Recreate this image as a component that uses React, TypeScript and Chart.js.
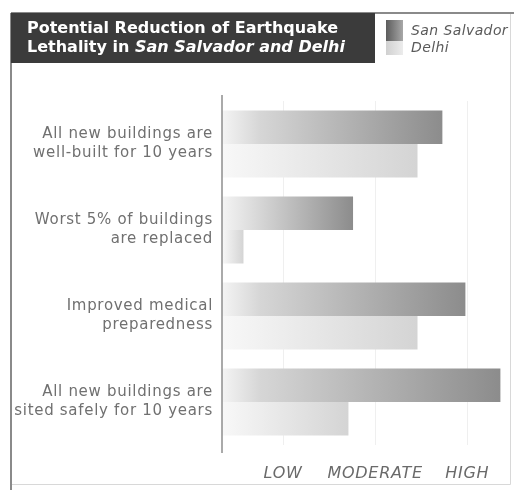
import React, { useEffect, useRef } from "react";
import { Chart, registerables } from "chart.js";

Chart.register(...registerables);

const categories: string[][] = [
  ["All new buildings are", "well-built for 10 years"],
  ["Worst 5% of buildings", "are replaced"],
  ["Improved medical", "preparedness"],
  ["All new buildings are", "sited safely for 10 years"],
];
const sanSalvador = [2.73, 1.76, 2.98, 3.36];
const delhi = [2.46, 0.57, 2.46, 1.71];
const levelTicks = [1, 2, 3];
const levelLabels = ["LOW", "MODERATE", "HIGH"];
const seriesNames = ["San Salvador", "Delhi"];
const titleLine1 = "Potential Reduction of Earthquake";
const titleLine2a = "Lethality in ";
const titleLine2b = "San Salvador and Delhi";

const FONT = "'DejaVu Sans', 'Noto Sans', sans-serif";
const SPACING = "0.7px";

function barGradient(dark: boolean) {
  return (ctx: any) => {
    const chart = ctx.chart;
    const area = chart.chartArea;
    if (!area || ctx.raw == null) return dark ? "#aaa" : "#ddd";
    const x0 = area.left;
    const x1 = chart.scales.x.getPixelForValue(ctx.raw);
    const g = chart.ctx.createLinearGradient(x0, 0, Math.max(x1, x0 + 1), 0);
    if (dark) {
      g.addColorStop(0, "#f4f4f4");
      g.addColorStop(Math.min(0.9, 38 / Math.max(1, x1 - x0)), "#d6d6d6");
      g.addColorStop(1, "#8c8c8c");
    } else {
      g.addColorStop(0, "#f8f8f8");
      g.addColorStop(1, "#d4d4d4");
    }
    return g;
  };
}

// wider tracking for axis text (the canvas state resets when the canvas is sized)
const trackingPlugin = {
  id: "tracking",
  beforeLayout(chart: any) {
    chart.ctx.letterSpacing = SPACING;
  },
  beforeDraw(chart: any) {
    chart.ctx.letterSpacing = SPACING;
  },
};

const framePlugin = {
  id: "frame",
  beforeDraw(chart: any) {
    const c = chart.ctx;
    c.save();
    c.fillStyle = "#ffffff";
    c.fillRect(0, 0, chart.width, chart.height);
    // outer frame
    c.strokeStyle = "#d8d8d8";
    c.lineWidth = 1;
    c.beginPath();
    c.moveTo(11, 484.5);
    c.lineTo(510.5, 484.5);
    c.moveTo(510.5, 13);
    c.lineTo(510.5, 484.5);
    c.stroke();
    c.strokeStyle = "#8a8a8a";
    c.lineWidth = 2;
    c.beginPath();
    c.moveTo(11, 13);
    c.lineTo(11, 490);
    c.moveTo(11, 13);
    c.lineTo(514, 13);
    c.stroke();
    c.restore();
  },
  afterDraw(chart: any) {
    const c = chart.ctx;
    const area = chart.chartArea;
    c.save();
    c.letterSpacing = "0px";
    // title box
    c.fillStyle = "#3b3b3b";
    c.fillRect(11, 13, 364, 50);
    c.fillStyle = "#ffffff";
    c.textBaseline = "middle";
    c.textAlign = "left";
    c.font = `bold 16px ${FONT}`;
    c.fillText(titleLine1, 27, 29);
    c.fillText(titleLine2a, 27, 48);
    const w = c.measureText(titleLine2a).width;
    c.font = `italic bold 16px ${FONT}`;
    c.fillText(titleLine2b, 27 + w, 48);

    // legend
    const g1 = c.createLinearGradient(386, 0, 403, 0);
    g1.addColorStop(0, "#5c5c5c");
    g1.addColorStop(1, "#a8a8a8");
    c.fillStyle = g1;
    c.fillRect(386, 20, 17, 21);
    const g2 = c.createLinearGradient(386, 0, 403, 0);
    g2.addColorStop(0, "#d0d0d0");
    g2.addColorStop(1, "#ececec");
    c.fillStyle = g2;
    c.fillRect(386, 41, 17, 14);
    c.fillStyle = "#5a5a5a";
    c.font = `italic 14px ${FONT}`;
    c.letterSpacing = "0.4px";
    c.fillText(seriesNames[0], 411, 31);
    c.fillText(seriesNames[1], 411, 48);

    // value axis line
    c.strokeStyle = "#8e8e8e";
    c.lineWidth = 1.5;
    c.beginPath();
    c.moveTo(area.left, 95);
    c.lineTo(area.left, 453);
    c.stroke();
    c.restore();
  },
};

export default function App() {
  const ref = useRef<HTMLCanvasElement | null>(null);
  useEffect(() => {
    if (!ref.current) return;
    const chart = new Chart(ref.current, {
      type: "bar",
      data: {
        labels: categories,
        datasets: [
          {
            label: seriesNames[0],
            data: sanSalvador,
            backgroundColor: barGradient(true),
            borderWidth: 0,
          },
          {
            label: seriesNames[1],
            data: delhi,
            backgroundColor: barGradient(false),
            borderWidth: 0,
          },
        ],
      },
      options: {
        indexAxis: "y",
        animation: false,
        responsive: false,
        maintainAspectRatio: false,
        layout: { padding: { top: 101, right: 9, left: 0, bottom: 0 } },
        datasets: {
          bar: { categoryPercentage: 0.78, barPercentage: 1 },
        },
        plugins: {
          legend: { display: false },
          title: { display: false },
          tooltip: { enabled: false },
        },
        scales: {
          x: {
            type: "linear",
            min: 0.337,
            max: 3.41,
            afterBuildTicks: (s: any) => {
              s.ticks = levelTicks.map((v) => ({ value: v }));
            },
            afterFit: (s: any) => {
              s.height = 45;
            },
            ticks: {
              padding: 19,
              color: "#6a6a6a",
              font: { family: FONT, size: 16, style: "italic" },
              callback: (v: any) => levelLabels[levelTicks.indexOf(Number(v))] ?? "",
            },
            grid: { color: "#efefef", drawTicks: false },
            border: { display: false },
          },
          y: {
            afterFit: (s: any) => {
              s.width = 222;
            },
            ticks: {
              padding: 9,
              color: "#707070",
              font: { family: FONT, size: 15, lineHeight: 1.27 },
            },
            grid: { display: false, drawTicks: false },
            border: { display: false },
          },
        },
      },
      plugins: [trackingPlugin, framePlugin],
    });
    return () => chart.destroy();
  }, []);
  return (
    <div style={{ position: "fixed", left: 0, top: 0, width: 514, height: 490, background: "#fff" }}>
      <canvas ref={ref} width={514} height={490} style={{ display: "block" }} />
    </div>
  );
}
